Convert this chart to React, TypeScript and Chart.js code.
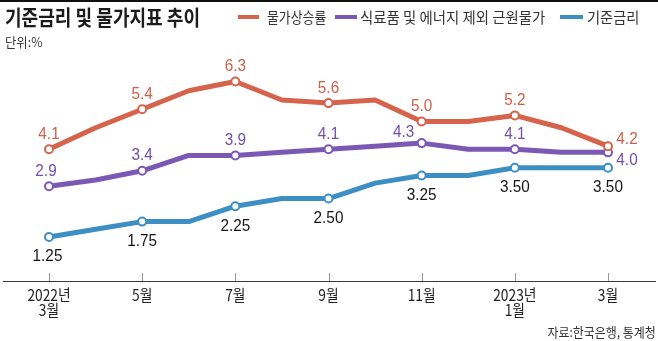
import React, { useEffect, useRef } from "react";
import { Chart, registerables } from "chart.js";

Chart.register(...registerables);

// ---- data ----
const categories = [
  "2022-03", "2022-04", "2022-05", "2022-06", "2022-07", "2022-08", "2022-09",
  "2022-10", "2022-11", "2022-12", "2023-01", "2023-02", "2023-03",
];
const tickLabels: string[][] = [
  ["2022년", "3월"], [], ["5월"], [], ["7월"], [], ["9월"], [], ["11월"], [], ["2023년", "1월"], [], ["3월"],
];
const cpi = [4.1, 4.8, 5.4, 6.0, 6.3, 5.7, 5.6, 5.7, 5.0, 5.0, 5.2, 4.8, 4.2];
const coreCpi = [2.9, 3.1, 3.4, 3.9, 3.9, 4.0, 4.1, 4.2, 4.3, 4.1, 4.1, 4.0, 4.0];
const baseRate = [1.25, 1.5, 1.75, 1.75, 2.25, 2.5, 2.5, 3.0, 3.25, 3.25, 3.5, 3.5, 3.5];
const seriesNames = ["물가상승률", "식료품 및 에너지 제외 근원물가", "기준금리"];
const labelDecimals = [1, 1, 2];

// ---- styles ----
const colors = ["#d6634c", "#7b58b3", "#3d8fc3"];
const labelColors = ["#d0604a", "#6f50ab", "#161616"];
// label offsets relative to the point (dx, dy of text centre)
const defaultOffset = [
  { dx: 0, dy: -16.5 },
  { dx: 0, dy: -16.5 },
  { dx: 0, dy: 18.5 },
];
const specialOffsets: Record<string, { dx: number; dy: number }> = {
  "0-12": { dx: 19, dy: -8.5 },
  "1-0": { dx: -3, dy: -16 },
  "1-8": { dx: -18, dy: -12.5 },
  "1-12": { dx: 19, dy: 7 },
  "2-0": { dx: -1.5, dy: 18.5 },
};

const KR = "'Noto Sans CJK KR', 'Noto Sans', sans-serif";

const pointRadius = categories.map((_, i) => (i % 2 === 0 ? 4 : 0));

const overlayPlugin = {
  id: "overlay",
  beforeDatasetsDraw(chart: any) {
    const { ctx, chartArea, scales } = chart;
    const x = scales.x;
    ctx.save();
    // axis line
    ctx.strokeStyle = "#3a3a3a";
    ctx.lineWidth = 1.2;
    ctx.beginPath();
    ctx.moveTo(3, chartArea.bottom + 0.5);
    ctx.lineTo(656, chartArea.bottom + 0.5);
    ctx.stroke();
    // tick marks
    ctx.strokeStyle = "#9a9a9a";
    ctx.lineWidth = 1;
    tickLabels.forEach((lines, i) => {
      if (!lines.length) return;
      const px = Math.round(x.getPixelForValue(i)) + 0.5;
      ctx.beginPath();
      ctx.moveTo(px, chartArea.bottom - 8);
      ctx.lineTo(px, chartArea.bottom);
      ctx.stroke();
    });
    // tick labels
    ctx.fillStyle = "#222";
    ctx.font = `16px ${KR}`;
    ctx.textAlign = "center";
    ctx.textBaseline = "alphabetic";
    tickLabels.forEach((lines, i) => {
      const px = x.getPixelForValue(i);
      lines.forEach((t, li) => {
        ctx.save();
        ctx.translate(px, chartArea.bottom + 20 + li * 15);
        ctx.scale(0.86, 1);
        ctx.fillText(t, 0, 0);
        ctx.restore();
      });
    });
    ctx.restore();
  },
  afterDatasetsDraw(chart: any) {
    const { ctx } = chart;
    ctx.save();
    ctx.font = "17px 'Liberation Sans', Arial, sans-serif";
    ctx.textAlign = "center";
    ctx.textBaseline = "alphabetic";
    chart.data.datasets.forEach((ds: any, di: number) => {
      const meta = chart.getDatasetMeta(di);
      meta.data.forEach((pt: any, i: number) => {
        if (i % 2 !== 0) return;
        const v = ds.data[i] as number;
        const off = specialOffsets[`${di}-${i}`] || defaultOffset[di];
        ctx.fillStyle = labelColors[di];
        ctx.save();
        ctx.translate(pt.x + off.dx, pt.y + off.dy + 6);
        ctx.scale(0.9, 1);
        ctx.fillText(v.toFixed(labelDecimals[di]), 0, 0);
        ctx.restore();
      });
    });
    ctx.restore();
  },
};

export default function App() {
  const ref = useRef<HTMLCanvasElement | null>(null);

  useEffect(() => {
    if (!ref.current) return;
    const values = [cpi, coreCpi, baseRate];
    const chart = new Chart(ref.current, {
      type: "line",
      data: {
        labels: categories,
        datasets: values.map((d, k) => ({
          label: seriesNames[k],
          data: d,
          borderColor: colors[k],
          backgroundColor: "#ffffff",
          borderWidth: 5,
          tension: 0,
          borderJoinStyle: "round" as const,
          borderCapStyle: "round" as const,
          pointRadius,
          pointBorderWidth: 2,
          pointBorderColor: colors[k],
          pointBackgroundColor: "#ffffff",
          clip: false as any,
        })),
      },
      options: {
        responsive: false,
        animation: false,
        devicePixelRatio: 1,
        layout: { padding: { left: 49, right: 50, top: 60, bottom: 60 } },
        plugins: { legend: { display: false }, tooltip: { enabled: false } },
        scales: {
          x: { display: false },
          y: { display: false, min: -0.18, max: 7.0 },
        },
      },
      plugins: [overlayPlugin],
    });
    return () => chart.destroy();
  }, []);

  const legendItems = [
    { sw: 238, swW: 21, tx: 267, w: 15, scale: 0.86 },
    { sw: 335, swW: 22, tx: 360, w: 15, scale: 0.96 },
    { sw: 560, swW: 23, tx: 587, w: 15, scale: 0.95 },
  ];

  return (
    <div
      style={{
        position: "absolute",
        left: 0,
        top: 0,
        width: 658,
        height: 341,
        background: "#fff",
        overflow: "hidden",
      }}
    >
      <canvas ref={ref} width={658} height={341} style={{ position: "absolute", left: 0, top: 0, width: 658, height: 341 }} />
      <div style={{ position: "absolute", left: 0, top: 0, width: 658, height: 2, background: "#111" }} />
      <div
        style={{
          position: "absolute",
          left: 5,
          top: 5.5,
          fontFamily: KR,
          fontSize: 21,
          fontWeight: 700,
          lineHeight: 1,
          color: "#1b1b1b",
          whiteSpace: "nowrap",
          transform: "scaleX(0.86)",
          transformOrigin: "left center",
        }}
      >
        기준금리 및 물가지표 추이
      </div>
      {legendItems.map((it, k) => (
        <React.Fragment key={k}>
          <div style={{ position: "absolute", left: it.sw, top: 15, width: it.swW, height: 3.5, background: colors[k] }} />
          <div
            style={{
              position: "absolute",
              left: it.tx,
              top: 9,
              fontFamily: KR,
              fontSize: it.w,
              lineHeight: 1,
              color: "#333",
              whiteSpace: "nowrap",
              transform: `scaleX(${it.scale})`,
              transformOrigin: "left center",
            }}
          >
            {seriesNames[k]}
          </div>
        </React.Fragment>
      ))}
      <div
        style={{
          position: "absolute",
          left: 5,
          top: 35,
          fontFamily: KR,
          fontSize: 13,
          lineHeight: 1,
          color: "#333",
          whiteSpace: "nowrap",
          transform: "scaleX(0.95)",
          transformOrigin: "left center",
        }}
      >
        단위:%
      </div>
      <div
        style={{
          position: "absolute",
          right: 2,
          top: 325,
          fontFamily: KR,
          fontSize: 13,
          lineHeight: 1,
          color: "#333",
          whiteSpace: "nowrap",
          transform: "scaleX(0.92)",
          transformOrigin: "right center",
        }}
      >
        자료:한국은행, 통계청
      </div>
    </div>
  );
}
